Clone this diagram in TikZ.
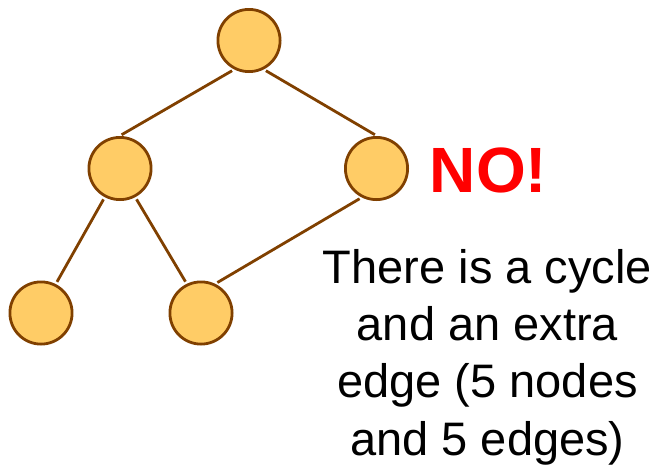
\documentclass[tikz,border=0pt]{standalone}
\usepackage{fontspec}
\setmainfont{Liberation Sans}
\definecolor{nodefill}{RGB}{255,204,102}
\definecolor{edgebrown}{RGB}{128,64,0}
\definecolor{answerred}{RGB}{255,0,0}

\begin{document}
\begin{tikzpicture}[x=1pt,y=-1pt,line join=round,
    treenode/.style={circle,draw=edgebrown,fill=nodefill,line width=2.8pt,
        minimum size=62.2pt,inner sep=0pt},
    treeedge/.style={edgebrown,line width=2.8pt,shorten <=2.5pt,shorten >=2.5pt}]
        \useasboundingbox (0,0) rectangle (659,467);

        % Vertices
        \node[treenode] (root)   at (249.0,40.5)  {};
        \node[treenode] (left)   at (120.0,168.5) {};
        \node[treenode] (right)  at (376.5,168.5) {};
        \node[treenode] (leaf)   at (41.0,313.0)  {};
        \node[treenode] (middle) at (201.0,313.0) {};

        % Edges (one too many)
        \draw[treeedge] (root.-117) -- (left.91);
        \draw[treeedge] (root.-63) -- (right.89);
        \draw[treeedge] (left.-118) -- (leaf.63);
        \draw[treeedge] (left.-62) -- (middle.116);
        \draw[treeedge] (right.-117) -- (middle.64);

        % Verdict
        \node[answerred,anchor=base,inner sep=0pt,font=\fontsize{64}{64}\selectfont\bfseries]
            (verdict) at (488.5,192.3) {NO!};
        \node[anchor=north,inner sep=0pt,align=center,font=\fontsize{47}{57.3}\selectfont]
            (reason) at (487.5,249)
            {There is a cycle\\and an extra\\edge (5 nodes\\and 5 edges)};
    \end{tikzpicture}
\end{document}
